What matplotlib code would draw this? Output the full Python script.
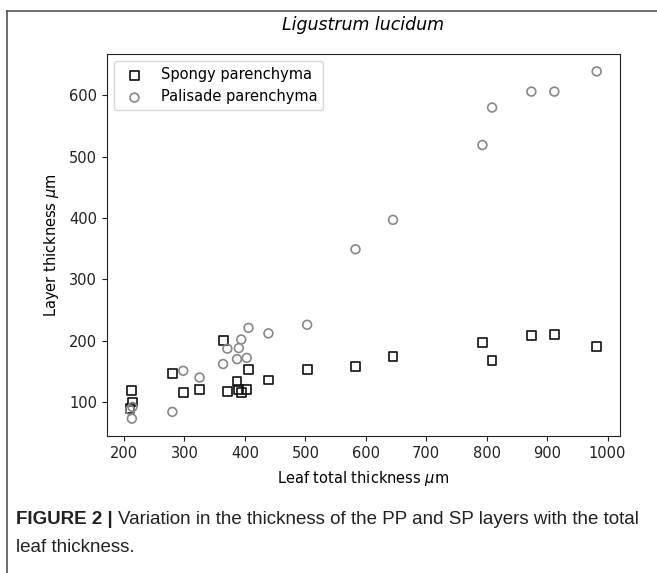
import matplotlib
matplotlib.use("Agg")
import matplotlib.pyplot as plt
from matplotlib.lines import Line2D

# ===== Data =====
leaf_total = [210, 213, 214, 280, 298, 325, 364, 371, 387, 390, 394, 403, 406,
              439, 503, 583, 645, 793, 809, 874, 912, 982]
spongy     = [89, 119, 100, 146, 116, 120, 200, 117, 133, 120, 115, 120, 153,
              136, 153, 158, 174, 197, 168, 208, 210, 190]
palisade   = [87, 73, 92, 84, 151, 140, 162, 187, 170, 188, 202, 172, 221,
              212, 226, 349, 397, 519, 580, 606, 606, 639]

x_ticks = [200, 300, 400, 500, 600, 700, 800, 900, 1000]
y_ticks = [100, 200, 300, 400, 500, 600]

W, H = 657, 573
fig = plt.figure(figsize=(W / 100, H / 100), dpi=100)
ax = fig.add_axes([106.7 / W, 1 - 436 / H, (620 - 106.7) / W, (436 - 54) / H])

ax.scatter(leaf_total, spongy, marker="s", s=40, facecolors="none",
           edgecolors="#111111", linewidths=1.2, label="Spongy parenchyma")
ax.scatter(leaf_total, palisade, marker="o", s=40, facecolors="none",
           edgecolors="#888888", linewidths=1.2, label="Palisade parenchyma")

ax.set_xticks(x_ticks)
ax.set_yticks(y_ticks)
ax.tick_params(labelsize=10.5, colors="#222222")
for sp in ax.spines.values():
    sp.set_color("#222222")
ax.set_xlabel(r"Leaf total thickness $\mu$m", fontsize=10.5, labelpad=6)
ax.set_ylabel(r"Layer thickness $\mu$m", fontsize=10.5, labelpad=6)
ax.set_title("Ligustrum lucidum", fontsize=12.5, style="italic", pad=17)
ax.legend(loc="upper left", fontsize=10.5, frameon=True)

# ===== Figure border and caption =====
fig.add_artist(Line2D([7 / W, 7 / W], [0, 1 - 11 / H], transform=fig.transFigure,
                      color="#555555", lw=1.2))
fig.add_artist(Line2D([7 / W, 1], [1 - 11 / H, 1 - 11 / H], transform=fig.transFigure,
                      color="#555555", lw=1.2))

cap_font = "Liberation Sans"
cap_size = 13.5
bold = fig.text(16 / W, 1 - 519 / H, "FIGURE 2 | ", fontsize=cap_size, fontweight="bold",
                family=cap_font, va="center", color="#222222")
fig.canvas.draw()
bb = bold.get_window_extent()
fig.text(bb.x1 / W, 1 - 519 / H,
         "Variation in the thickness of the PP and SP layers with the total",
         fontsize=cap_size, family=cap_font, va="center", color="#222222")
fig.text(16 / W, 1 - 547 / H, "leaf thickness.", fontsize=cap_size,
         family=cap_font, va="center", color="#222222")

fig.savefig("out.png", dpi=100)
